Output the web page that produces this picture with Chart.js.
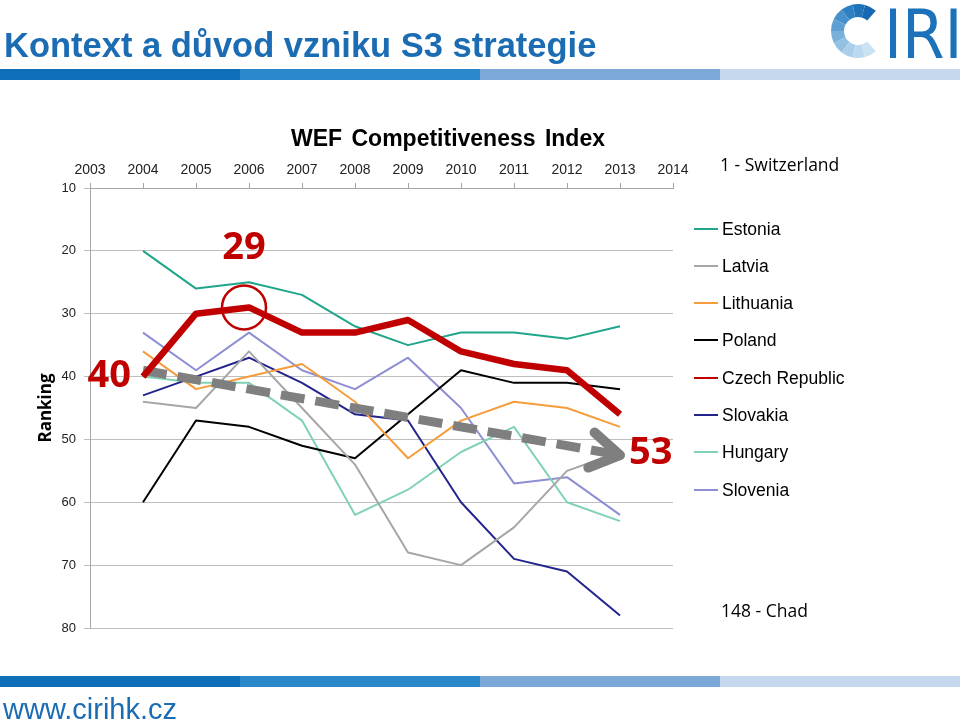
<!DOCTYPE html>
<html>
<head>
<meta charset="utf-8">
<script src="https://cdn.jsdelivr.net/npm/chart.js@4.4.1/dist/chart.umd.min.js"></script>
<style>
  body { margin: 0; background: #fff; }
  #page { position: relative; width: 960px; height: 726px; overflow: hidden; background: #fff;
          font-family: "Liberation Sans", Arial, sans-serif; }
  #chart { position: absolute; left: 0; top: 0; z-index: 1; }
  .txt { position: absolute; white-space: nowrap; z-index: 2; }
  .stripe { position: absolute; height: 11px; width: 240px; z-index: 2; }
  #heading { left: 4px; top: 28px; font-size: 34.5px; line-height: 34.5px; font-weight: bold; color: #1c6cb4; }
  #url { left: 3px; top: 695px; font-size: 29px; line-height: 29px; color: #1c6cb4; }
  #iri { left: 884px; top: 1px; font-family: "Liberation Sans Narrow", "DejaVu Sans Condensed", sans-serif;
         font-size: 68px; line-height: 68px; color: #1b72ba; }
  #logoC { position: absolute; left: 828px; top: 0; z-index: 2; }
  #chartTitle { left: 248px; width: 400px; text-align: center; top: 127px; font-size: 23px; line-height: 23px;
                font-weight: bold; color: #000; word-spacing: 3px; }
  .note { font-family: "Open Sans", sans-serif; font-size: 17.5px; line-height: 17.5px; color: #000; }
  .legRow { position: absolute; height: 20px; z-index: 2; }
  .legLine { position: absolute; left: 0; top: 9px; width: 24px; height: 2px; }
  .legText { position: absolute; left: 28px; top: 0; font-size: 17.5px; line-height: 20px; color: #000; white-space: nowrap; }
</style>
</head>
<body>
<div id="page">
  <canvas id="chart" width="960" height="726"></canvas>
  <div class="txt" id="heading">Kontext a důvod vzniku S3 strategie</div>
  <canvas id="logoC" width="60" height="64"></canvas>
  <div class="txt" id="iri">IRI</div>
  <div class="txt" id="chartTitle">WEF Competitiveness Index</div>
  <div class="txt note" style="left:720px; top:156px;">1 - Switzerland</div>
  <div class="txt note" style="left:721px; top:602px;">148 - Chad</div>
  <div class="txt" id="url">www.cirihk.cz</div>
  <div id="legend"></div>
</div>
<script>
// WEF Global Competitiveness Index - ranking
const years = [2004, 2005, 2006, 2007, 2008, 2009, 2010, 2011, 2012, 2013];
const yearMin = 2003;
const yearMax = 2014;
const rankMin = 10;
const rankMax = 80;
const rankStep = 10;

const estonia   = [20, 26, 25, 27, 32, 35, 33, 33, 34, 32];
const latvia    = [44, 45, 36, 45, 54, 68, 70, 64, 55, 52];
const lithuania = [36, 42, 40, 38, 44, 53, 47, 44, 45, 48];
const poland    = [60, 47, 48, 51, 53, 46, 39, 41, 41, 42];
const czech     = [40, 30, 29, 33, 33, 31, 36, 38, 39, 46];
const slovakia  = [43, 40, 37, 41, 46, 47, 60, 69, 71, 78];
const hungary   = [40, 41, 41, 47, 62, 58, 52, 48, 60, 63];
const slovenia  = [33, 39, 33, 39, 42, 37, 45, 57, 56, 62];

const seriesNames  = ['Estonia', 'Latvia', 'Lithuania', 'Poland', 'Czech Republic', 'Slovakia', 'Hungary', 'Slovenia'];
const seriesValues = [estonia, latvia, lithuania, poland, czech, slovakia, hungary, slovenia];
const seriesColors = ['#1fa68a', '#a6a6a6', '#f59d3d', '#000000', '#c00000', '#23238e', '#7fd3b3', '#8e8ed4'];

// trend arrow 2004 -> 2013 and the highlighted values
const arrowYears = [2004, 2013];
const arrowRanks = [39, 52.5];
const circleYear = 2006;
const firstLabel = '40';
const bestLabel = '29';
const lastLabel = '53';

Chart.defaults.font.family = '"Liberation Sans", Arial, sans-serif';

const datasets = seriesNames.map(function (name, i) {
    const isCzech = name === 'Czech Republic';
    return {
        label: name,
        data: years.map(function (yr, j) { return { x: yr, y: seriesValues[i][j] }; }),
        borderColor: seriesColors[i],
        borderWidth: isCzech ? 6.5 : 2,
        borderJoinStyle: 'round',
        pointRadius: 0,
        tension: 0,
        order: isCzech ? 0 : 2
    };
});
datasets.push({
    label: 'trend',
    data: arrowYears.map(function (yr, j) { return { x: yr, y: arrowRanks[j] }; }),
    borderColor: '#7f7f7f',
    borderWidth: 9,
    borderDash: [24, 11],
    borderCapStyle: 'butt',
    pointRadius: 0,
    order: 1
});

// circle, arrow head and the big red numbers
const callouts = {
    id: 'callouts',
    afterDatasetsDraw: function (chart) {
        const ctx = chart.ctx;
        const x = chart.scales.x;
        const y = chart.scales.y;
        ctx.save();

        const ci = years.indexOf(circleYear);
        const cx = x.getPixelForValue(circleYear) - 5;
        const cy = y.getPixelForValue(czech[ci]);
        ctx.strokeStyle = '#c00000';
        ctx.lineWidth = 2.5;
        ctx.beginPath();
        ctx.arc(cx, cy, 22, 0, Math.PI * 2);
        ctx.stroke();

        const x0 = x.getPixelForValue(arrowYears[0]), y0 = y.getPixelForValue(arrowRanks[0]);
        const x1 = x.getPixelForValue(arrowYears[1]), y1 = y.getPixelForValue(arrowRanks[1]);
        const ang = Math.atan2(y1 - y0, x1 - x0);
        const len = 34, spread = 0.55;
        ctx.strokeStyle = '#7f7f7f';
        ctx.lineWidth = 10;
        ctx.lineCap = 'round';
        ctx.lineJoin = 'round';
        ctx.beginPath();
        ctx.moveTo(x1 - len * Math.cos(ang - spread), y1 - len * Math.sin(ang - spread));
        ctx.lineTo(x1, y1);
        ctx.lineTo(x1 - len * Math.cos(ang + spread), y1 - len * Math.sin(ang + spread));
        ctx.stroke();

        ctx.fillStyle = '#c00000';
        ctx.font = 'bold 38px "Open Sans", sans-serif';
        ctx.textBaseline = 'alphabetic';
        ctx.textAlign = 'right';
        ctx.fillText(firstLabel, x.getPixelForValue(years[0]) - 12, y.getPixelForValue(czech[0]) + 10);
        ctx.textAlign = 'center';
        ctx.fillText(bestLabel, cx, cy - 48);
        ctx.textAlign = 'left';
        ctx.fillText(lastLabel, x1 + 9, y1 + 9);
        ctx.restore();
    }
};

new Chart(document.getElementById('chart'), {
    type: 'line',
    data: { datasets: datasets },
    options: {
        responsive: false,
        animation: false,
        layout: { padding: { left: 36, right: 287, top: 150, bottom: 98 } },
        plugins: {
            legend: { display: false },
            tooltip: { enabled: false }
        },
        scales: {
            x: {
                type: 'linear',
                position: 'top',
                min: yearMin,
                max: yearMax,
                ticks: {
                    stepSize: 1,
                    autoSkip: false,
                    maxRotation: 0,
                    padding: 4,
                    color: '#222',
                    font: { size: 14 },
                    callback: function (v) { return String(v); }
                },
                grid: { drawOnChartArea: false, tickLength: 5, color: '#a6a6a6' },
                border: { color: '#a6a6a6' },
                afterFit: function (scale) { scale.height = 38; }
            },
            y: {
                reverse: true,
                min: rankMin,
                max: rankMax,
                ticks: { stepSize: rankStep, padding: 8, color: '#222', font: { size: 13 } },
                grid: { color: '#bfbfbf', tickLength: 6 },
                border: { color: '#a6a6a6' },
                title: {
                    display: true,
                    text: 'Ranking',
                    color: '#000',
                    padding: { top: 0, bottom: 0 },
                    font: { family: '"Open Sans", sans-serif', size: 17, weight: 'bold' }
                },
                afterFit: function (scale) { scale.width = 54; }
            }
        }
    },
    plugins: [callouts]
});

// legend on the right
const legend = document.getElementById('legend');
seriesNames.forEach(function (name, i) {
    const row = document.createElement('div');
    row.className = 'legRow';
    row.style.left = '694px';
    row.style.top = (218.5 + i * 37.3) + 'px';
    row.innerHTML = '<div class="legLine" style="background:' + seriesColors[i] + '"></div>' +
        '<div class="legText">' + name + '</div>';
    legend.appendChild(row);
});

// header / footer stripes
const stripeColors = ['#0e6eb8', '#2a87c9', '#7ba8d7', '#c6d8ee'];
const page = document.getElementById('page');
[69, 676].forEach(function (top) {
    stripeColors.forEach(function (c, i) {
        const s = document.createElement('div');
        s.className = 'stripe';
        s.style.left = (i * 240) + 'px';
        s.style.top = top + 'px';
        s.style.background = c;
        page.appendChild(s);
    });
});

// logo "C" made of blue segments
const lc = document.getElementById('logoC').getContext('2d');
const logoShades = ['#1768b2', '#1f73b9', '#2e80c2', '#4690cb', '#5fa0d3', '#7ab1db', '#93c1e3', '#aacfea', '#bcdaef', '#cbe2f3'];
const startA = -0.85, endA = -2 * Math.PI + 0.85;
const stepA = (startA - endA) / logoShades.length;
logoShades.forEach(function (c, i) {
    const a0 = startA - i * stepA, a1 = a0 - stepA;
    lc.fillStyle = c;
    lc.beginPath();
    lc.arc(30, 31, 27, a0, a1, true);
    lc.arc(30, 31, 14, a1, a0, false);
    lc.closePath();
    lc.fill();
});
</script>
</body>
</html>
